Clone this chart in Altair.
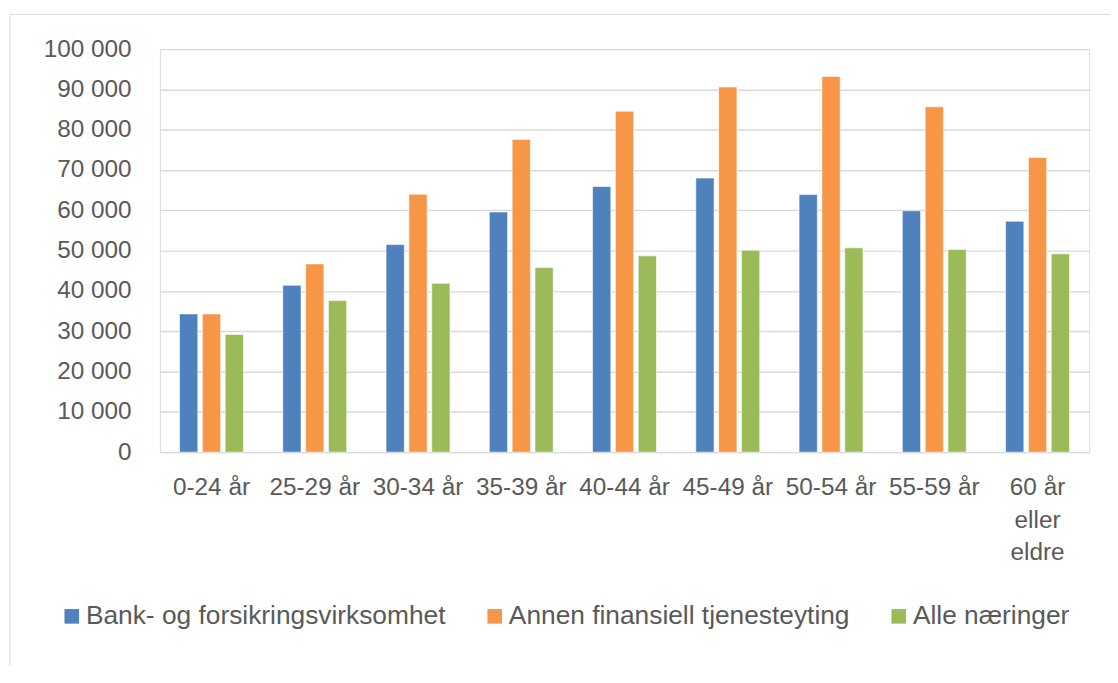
import altair as alt
import pandas as pd

categories = ["0-24 år", "25-29 år", "30-34 år", "35-39 år", "40-44 år",
              "45-49 år", "50-54 år", "55-59 år", "60 år eller eldre"]
series = ["Bank- og forsikringsvirksomhet", "Annen finansiell tjenesteyting", "Alle næringer"]
bank = [34300, 41400, 51500, 59600, 65900, 68000, 63900, 59900, 57300]
annen = [34300, 46700, 64000, 77600, 84600, 90600, 93200, 85700, 73100]
alle = [29200, 37600, 41900, 45800, 48700, 50100, 50700, 50300, 49200]
colors = ["#4F81BD", "#F79646", "#9BBB59"]
y_ticks = [0, 10000, 20000, 30000, 40000, 50000, 60000, 70000, 80000, 90000, 100000]

rows = []
for s, vals in zip(series, [bank, annen, alle]):
    for c, v in zip(categories, vals):
        rows.append({"alder": c, "serie": s, "verdi": v})
df = pd.DataFrame(rows)

FONT = "Liberation Sans"
TXT = "#595959"
W, H = 936, 406

bars = alt.Chart(df).mark_bar(stroke="white", strokeWidth=0.6).encode(
    x=alt.X("alder:N", sort=categories, title=None,
            scale=alt.Scale(paddingInner=0.3365, paddingOuter=0.168),
            axis=alt.Axis(labelAngle=0, labelFontSize=24.5, labelFont=FONT, labelColor=TXT,
                          labelPadding=24, labelLineHeight=32.5, ticks=False, domain=False,
                          grid=False, labelLimit=300,
                          labelExpr="datum.value == '60 år eller eldre' ? ['60 år', 'eller', 'eldre'] : datum.value")),
    xOffset=alt.XOffset("serie:N", sort=series,
                        scale=alt.Scale(paddingInner=0.2, paddingOuter=0.1)),
    y=alt.Y("verdi:Q", title=None,
            scale=alt.Scale(domain=[0, 100000], nice=False),
            axis=alt.Axis(values=y_ticks, labelFontSize=24.5, labelFont=FONT, labelColor=TXT,
                          labelPadding=29, ticks=False, domain=False, grid=True,
                          gridColor="#d9d9d9", gridWidth=1.4,
                          labelExpr="replace(format(datum.value, ','), ',', ' ')")),
    color=alt.Color("serie:N", sort=series, title=None,
                    scale=alt.Scale(domain=series, range=colors),
                    legend=alt.Legend(orient="none", direction="horizontal",
                                      legendX=-102, legendY=558,
                                      symbolType="square", symbolSize=216, symbolStrokeWidth=0,
                                      labelFontSize=26.5, labelFont=FONT, labelColor=TXT,
                                      labelOffset=1, columnPadding=36, labelLimit=500)),
)

frame_df = pd.DataFrame({"k": [0]})
top_line = alt.Chart(frame_df).mark_rule(color="#d9d9d9", strokeWidth=1).encode(
    x=alt.value(-151), x2=alt.value(W + 21), y=alt.value(-35))
left_line = alt.Chart(frame_df).mark_rule(color="#d9d9d9", strokeWidth=1).encode(
    x=alt.value(-151), y=alt.value(-35), y2=alt.value(621))

chart = alt.layer(top_line, left_line, bars).properties(
    width=W, height=H,
    autosize=alt.AutoSizeParams(type="none"),
    padding={"left": 153, "top": 39, "right": 21, "bottom": 215},
).configure_view(stroke=None).configure(background="white")

chart.save("out.html", embed_options={"renderer": "svg", "actions": False})
